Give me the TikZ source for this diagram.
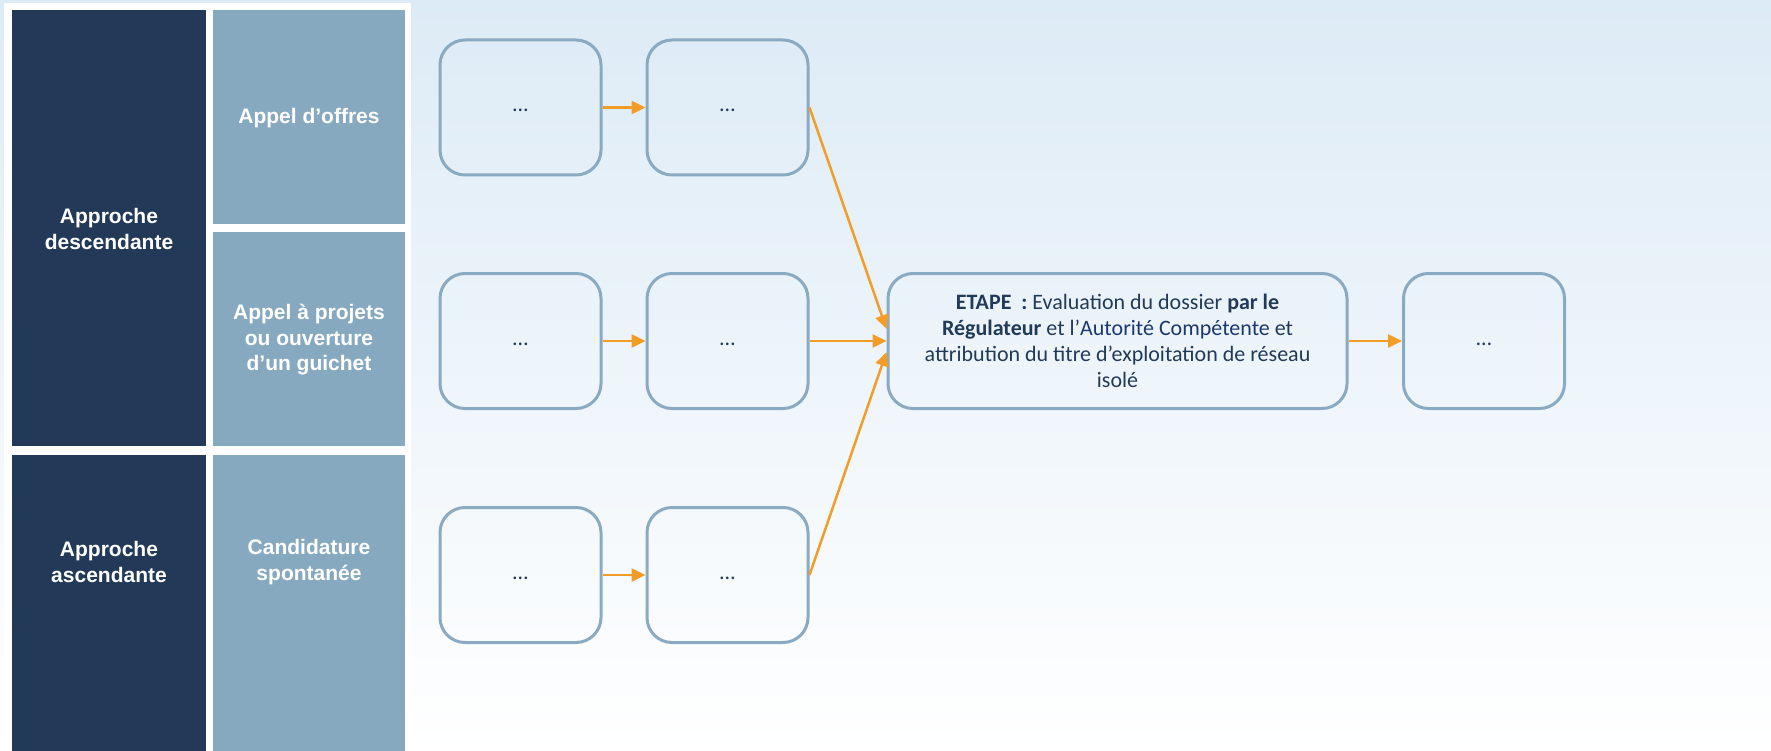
\documentclass[tikz,border=0pt]{standalone}
\usepackage{fontspec}
\setmainfont{Carlito}
\newfontfamily\arialf{Liberation Sans}
\usetikzlibrary{arrows.meta}
\definecolor{navy}{RGB}{34,58,88}
\definecolor{steel}{RGB}{135,169,192}
\definecolor{boxline}{RGB}{138,170,194}
\definecolor{orangeA}{RGB}{242,157,40}
\definecolor{bgtop}{RGB}{221,235,246}
\definecolor{acblue}{RGB}{28,56,112}
\newcommand{\mydots}{\raisebox{-4pt}[0pt][0pt]{…}}
\tikzset{
  panel/.style={inner sep=0pt, outer sep=0pt, draw=none},
  paneltext/.style={text=white, font=\arialf\bfseries\fontsize{21}{25.5}\selectfont, align=center},
  stepbox/.style={draw=boxline, line width=3pt, rounded corners=25pt, minimum width=161pt, minimum height=135pt, inner sep=0pt, font=\fontsize{22}{26}\selectfont, text=navy},
  flow/.style={draw=orangeA, line width=2.5pt, -{Triangle[length=14pt,width=13pt]}}
}
\begin{document}
\begin{tikzpicture}[x=1pt,y=-1pt]
\useasboundingbox (0,0) rectangle (1771,751);
\fill[top color=bgtop, bottom color=white] (0,0) rectangle (1771,751);
% left panel
\fill[white] (4,3) rectangle (411,751);
\fill[navy] (12,10) rectangle (206,446);
\fill[steel] (213,10) rectangle (405,224);
\fill[steel] (213,232) rectangle (405,446);
\fill[navy] (12,455) rectangle (206,751);
\fill[steel] (213,455) rectangle (405,751);
\node[paneltext] (tdesc) at (109,229) {Approche\\descendante};
\node[paneltext] (tao) at (309,118) {Appel d’offres};
\node[paneltext] (tap) at (309,340) {Appel à projets\\ou ouverture\\d’un guichet};
\node[paneltext] (tasc) at (109,562) {Approche\\ascendante};
\node[paneltext] (tcand) at (309,562) {Candidature\\spontanée};
% step boxes
\node[stepbox] (a1) at (520.5,107.5) {\mydots};
\node[stepbox] (a2) at (727.5,107.5) {\mydots};
\node[stepbox] (b1) at (520.5,341) {\mydots};
\node[stepbox] (b2) at (727.5,341) {\mydots};
\node[stepbox] (c1) at (520.5,575) {\mydots};
\node[stepbox] (c2) at (727.5,575) {\mydots};
\node[stepbox, minimum width=459pt, align=center] (big) at (1117.5,341)
  {\textbf{ETAPE\ \ :} Evaluation du dossier \textbf{par le}\\
   \textbf{Régulateur} et l’{\color{acblue}Autorité Compétente} et\\
   attribution du titre d’exploitation de réseau\\
   isolé};
\node[stepbox] (fin) at (1484,341) {\mydots};
% connectors
\draw[flow] (a1.east) -- (a2.west);
\draw[flow] (b1.east) -- (b2.west);
\draw[flow] (c1.east) -- (c2.west);
\draw[flow] (a2.east) -- ([yshift=12pt]big.west);
\draw[flow] (b2.east) -- (big.west);
\draw[flow] (c2.east) -- ([yshift=-11pt]big.west);
\draw[flow] (big.east) -- (fin.west);
\end{tikzpicture}
\end{document}
